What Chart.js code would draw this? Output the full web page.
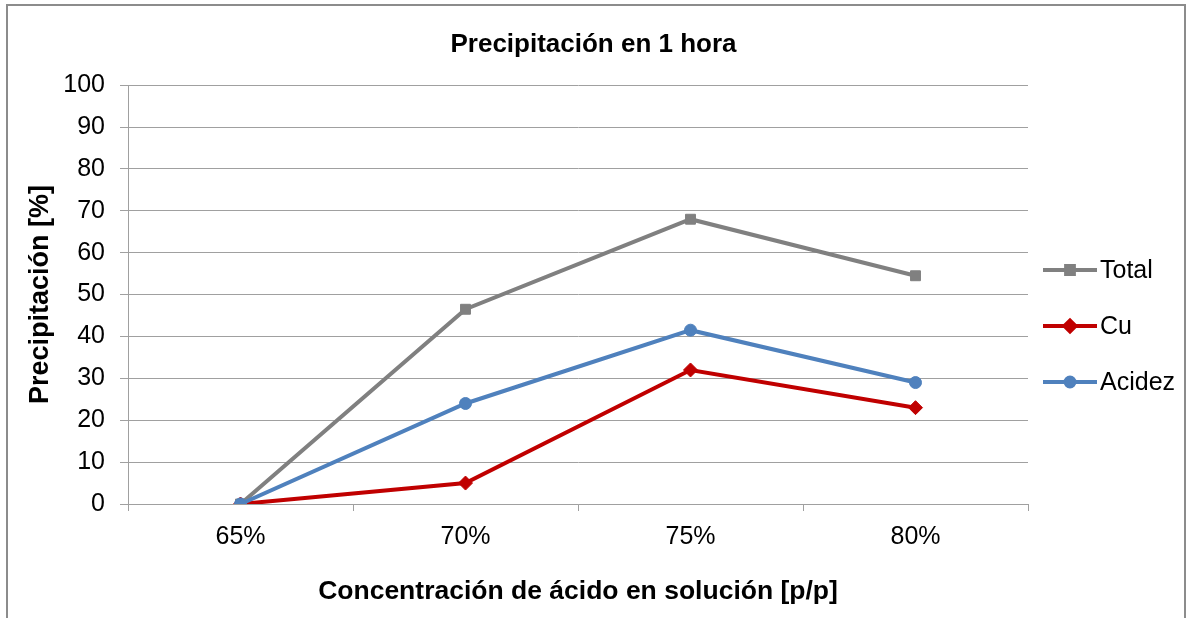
<!DOCTYPE html>
<html>
<head>
<meta charset="utf-8">
<script src="https://cdn.jsdelivr.net/npm/chart.js@4.4.1/dist/chart.umd.min.js"></script>
<style>
  html, body { margin: 0; padding: 0; background: #fff; overflow: hidden; }
  #frame {
    position: absolute; left: 6px; top: 4px; width: 1180px; height: 700px;
    border: 2px solid #8c8c8c; box-sizing: border-box; pointer-events: none;
  }
  #wrap { position: absolute; left: 0; top: 0; width: 1187px; height: 618px; }
</style>
</head>
<body>
<div id="wrap"><canvas id="chart"></canvas></div>
<div id="frame"></div>
<script>
// categories and series
const labels = ["65%", "70%", "75%", "80%"];
const totalValues = [0, 46.5, 68, 54.5];
const cuValues = [0, 5, 32, 23];
const acidezValues = [0, 24, 41.5, 29];
const yTicks = [0, 10, 20, 30, 40, 50, 60, 70, 80, 90, 100];

const FONT = "'Liberation Sans', Arial, sans-serif";
const GRID = "#a0a0a0";

//draws the legend (line with marker) to the right of the plot
const lineLegend = {
  id: "lineLegend",
  afterDraw(chart) {
    const ctx = chart.ctx;
    const x0 = chart.chartArea.right + 15;
    let y = 270;
    chart.data.datasets.forEach((ds) => {
      ctx.save();
      ctx.strokeStyle = ds.borderColor;
      ctx.lineWidth = 4;
      ctx.beginPath();
      ctx.moveTo(x0, y);
      ctx.lineTo(x0 + 54, y);
      ctx.stroke();
      Chart.helpers.drawPoint(ctx, {
        pointStyle: ds.pointStyle,
        radius: ds.pointRadius - 1.5,
        borderWidth: 1,
      }, x0 + 27, y);
      ctx.fillStyle = ds.borderColor;
      ctx.fill();
      ctx.fillStyle = "#000";
      ctx.font = "25px " + FONT;
      ctx.textBaseline = "middle";
      ctx.fillText(ds.label, x0 + 57, y + 1);
      ctx.restore();
      y += 56;
    });
  },
};

new Chart(document.getElementById("chart"), {
  type: "line",
  data: {
    labels: labels,
    datasets: [
      {
        label: "Total",
        data: totalValues,
        borderColor: "#808080",
        backgroundColor: "#808080",
        borderWidth: 4,
        pointStyle: "rect",
        pointRadius: 7,
        pointBorderWidth: 1,
        order: 3,
      },
      {
        label: "Cu",
        data: cuValues,
        borderColor: "#c00000",
        backgroundColor: "#c00000",
        borderWidth: 4,
        pointStyle: "rectRot",
        pointRadius: 7,
        pointBorderWidth: 1,
        order: 2,
      },
      {
        label: "Acidez",
        data: acidezValues,
        borderColor: "#4f81bd",
        backgroundColor: "#4f81bd",
        borderWidth: 4,
        pointStyle: "circle",
        pointRadius: 6,
        pointBorderWidth: 1,
        order: 1,
      },
    ],
  },
  options: {
    responsive: true,
    maintainAspectRatio: false,
    animation: false,
    layout: { padding: 0 },
    plugins: {
      legend: { display: false },
      tooltip: { enabled: false },
      title: {
        display: true,
        text: "Precipitación en 1 hora",
        color: "#000",
        font: { family: FONT, size: 26, weight: "bold" },
        padding: { top: 29, bottom: 25 },
      },
    },
    scales: {
      x: {
        offset: true,
        afterFit: (s) => { s.height = 114; },
        grid: {
          offset: true,
          drawOnChartArea: false,
          drawTicks: true,
          tickLength: 7,
          color: GRID,
        },
        border: { display: true, color: GRID, width: 1 },
        ticks: {
          color: "#000",
          font: { family: FONT, size: 25 },
          padding: 11,
          maxRotation: 0,
        },
        title: {
          display: true,
          text: "Concentración de ácido en solución [p/p]",
          color: "#000",
          font: { family: FONT, size: 26.5, weight: "bold" },
          padding: { top: 0, bottom: 10 },
        },
      },
      y: {
        min: 0,
        max: 100,
        afterFit: (s) => { s.width = 128; },
        afterBuildTicks: (s) => { s.ticks = yTicks.map((v) => ({ value: v })); },
        grid: { color: GRID, tickLength: 8, drawTicks: true },
        border: { display: true, color: GRID, width: 1 },
        ticks: {
          color: "#000",
          font: { family: FONT, size: 25 },
          padding: 15,
        },
        title: {
          display: true,
          text: "Precipitación [%]",
          color: "#000",
          font: { family: FONT, size: 27, weight: "bold" },
          padding: { top: 24, bottom: 0 },
        },
      },
      // empty axis on the right that keeps room for the legend
      legendSpace: {
        position: "right",
        display: true,
        afterFit: (s) => { s.width = 159; },
        grid: { display: false, drawTicks: false },
        border: { display: false },
        ticks: { display: false },
      },
    },
  },
  plugins: [lineLegend],
});
</script>
</body>
</html>
